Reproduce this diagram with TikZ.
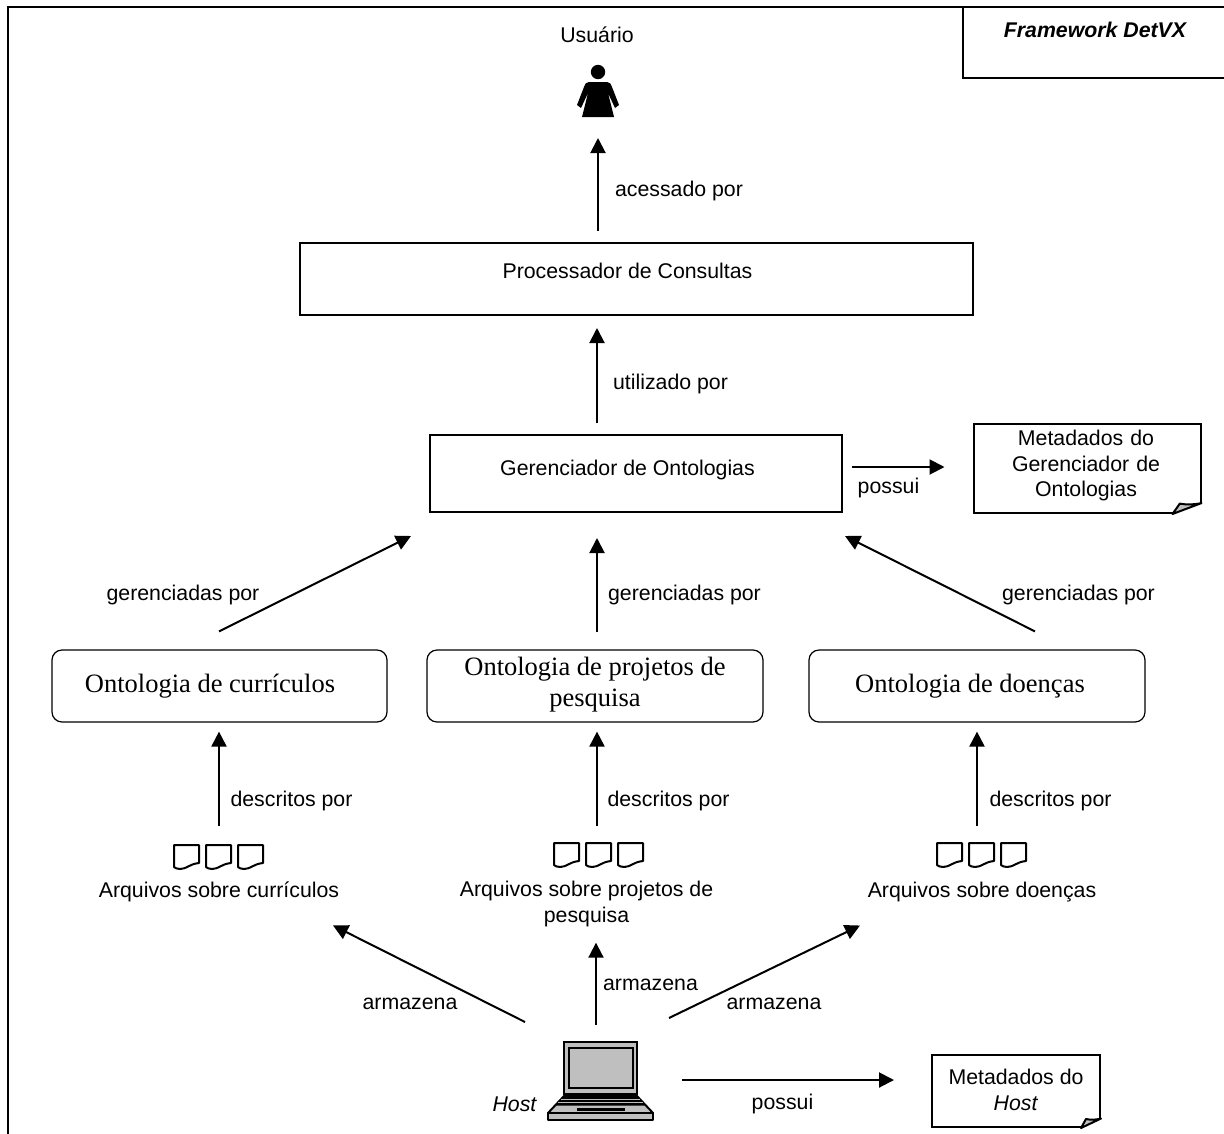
\documentclass[tikz,border=0pt]{standalone}
\usepackage{fontspec}
\setmainfont{Liberation Sans}
\newfontfamily\serifont{Liberation Serif}
\usetikzlibrary{arrows.meta}
\definecolor{lapgray}{gray}{0.75}
\tikzset{
  every picture/.style={line width=2pt},
  txt/.style={font=\fontsize{21.3}{25.5}\selectfont,inner sep=0pt,align=center,text=black},
  serif/.style={font=\serifont\fontsize{26.5}{31}\selectfont,inner sep=0pt,align=center},
  blockbox/.style={draw=black,line width=2pt,inner sep=0pt,fill=white},
  ontobox/.style={blockbox,rounded corners=10pt,line width=1.2pt},
  arr/.style={-{Triangle[length=15pt,width=15pt]},line width=2pt,black},
  foldnote/.pic={
    \fill[white] (1.5,-9.5) -- (1.5,1.5) -- (-20,1.5) -- (-20,-0.5) -- cycle;
    \draw[line width=2pt,fill=lapgray,line join=round] (0,-9.5) .. controls (-6,-8) and (-10,-8) .. (-15,-9) -- (-20,0) -- cycle;
  },
  docicon/.pic={
    \draw[line width=2pt,line join=round,fill=white] (0,0) -- (25,0) -- (25,18)
      .. controls (15,19) and (13,24) .. (6,24) .. controls (3,24) and (1,23) .. (0,22) -- cycle;
  },
  docgroup/.pic={
    \pic at (0,0) {docicon};
    \pic at (32,0) {docicon};
    \pic at (64,0) {docicon};
  },
  personicon/.pic={
    \fill (0,0) circle (7.2);
    \fill[line join=round] (-9,10) -- (9,10) .. controls (12,10) and (13,12) .. (14,15)
      -- (21,33) -- (17,36) -- (10,21) -- (16,45) -- (-16,45) -- (-10,21) -- (-17,36) -- (-21,33) -- (-14,15)
      .. controls (-13,12) and (-12,10) .. (-9,10) -- cycle;
  },
  laptopicon/.pic={
    \draw[line width=2pt,fill=lapgray] (0,0) rectangle (73,52);
    \draw[line width=2pt,fill=lapgray] (5,6) rectangle (69,46);
    \draw[line width=2pt,fill=lapgray,line join=round] (0,54) -- (73,54) -- (89,71) -- (-16,71) -- cycle;
    \fill (0,54) -- (73,54) -- (82,63.5) -- (-9,63.5) -- cycle;
    \draw[lapgray,line width=1pt] (-3,57.5) -- (76,57.5) (-6,60.5) -- (79,60.5);
    \fill (13,66) rectangle (61,69);
    \draw[line width=2pt,fill=lapgray,line join=round] (-16,71) rectangle (89,78);
  }
}
\begin{document}
\begin{tikzpicture}[x=1pt,y=-1pt]
\useasboundingbox (0,0) rectangle (1224,1133);
\coordinate (frameTL) at (8,7);
\coordinate (frameTR) at (1224,7);
\coordinate (frameBL) at (8,1133);
\draw[line width=2pt,line cap=rect] (frameBL) -- (frameTL) -- (frameTR);
\coordinate (tagTL) at (963,7);
\coordinate (tagBL) at (963,78);
\coordinate (tagBR) at (1224,78);
\draw[line width=2pt] (tagTL) -- (tagBL) -- (tagBR);
\node[txt,anchor=base,font=\fontsize{21.3}{25}\selectfont\bfseries\itshape] (tag) at (1095,37) {Framework DetVX};

\node[txt,anchor=base] (usertxt) at (597,42) {Usuário};
\node[inner sep=0pt,minimum width=42pt,minimum height=52pt] (user) at (598,91) {};
\pic at (598,72) {personicon};

\node[blockbox,minimum width=673pt,minimum height=72pt] (proc) at (636.5,279) {};
\node[txt,anchor=base] (proctxt) at (627.5,278) {Processador de Consultas};
\node[blockbox,minimum width=412pt,minimum height=77pt] (gen) at (636,473.5) {};
\node[txt,anchor=base] (gentxt) at (627.5,475) {Gerenciador de Ontologias};

\node[blockbox,minimum width=227pt,minimum height=89pt] (metagen) at (1087,468.5) {};
\pic[xscale=1.45,yscale=1.15] at (metagen.south east) {foldnote};
\node[txt,text width=225pt] (metagentxt) at (1086,465.5) {Metadados do\\Gerenciador de\\Ontologias};

\node[ontobox,minimum width=335pt,minimum height=72pt] (onto1) at (219.5,686) {};
\node[ontobox,minimum width=336pt,minimum height=72pt] (onto2) at (595,686) {};
\node[ontobox,minimum width=336pt,minimum height=72pt] (onto3) at (977,686) {};
\node[serif,anchor=base] (onto1txt) at (210,692) {Ontologia de currículos};
\node[serif] (onto2txt) at (595,685) {Ontologia de projetos de\\pesquisa};
\node[serif,anchor=base] (onto3txt) at (970,692) {Ontologia de doenças};

\pic at (174,845) {docgroup};
\pic at (554,843) {docgroup};
\pic at (937,843) {docgroup};
\node[inner sep=0pt,minimum width=89pt,minimum height=24pt] (docs1) at (218.5,857) {};
\node[inner sep=0pt,minimum width=89pt,minimum height=24pt] (docs2) at (598.5,855) {};
\node[inner sep=0pt,minimum width=89pt,minimum height=24pt] (docs3) at (981.5,855) {};
\node[txt,anchor=base] (arq1) at (219,897) {Arquivos sobre currículos};
\node[txt] (arq2) at (586.5,904) {Arquivos sobre projetos de\\pesquisa};
\node[txt,anchor=base] (arq3) at (982,897) {Arquivos sobre doenças};

\pic at (564,1042) {laptopicon};
\node[inner sep=0pt,minimum width=105pt,minimum height=78pt] (host) at (600.5,1081) {};
\node[txt,anchor=base,font=\fontsize{21.3}{25}\selectfont\itshape] (hosttxt) at (514.5,1111) {Host};

\node[blockbox,minimum width=168pt,minimum height=72pt] (metahost) at (1016,1091) {};
\pic at (metahost.south east) {foldnote};
\node[txt] (metahosttxt) at (1016,1090) {Metadados do\\\textit{Host}};

% connectors
\draw[arr] ([shift={(-38.5,-11)}]proc.north) -- ([shift={(0,20)}]user.south);
\draw[arr] ([shift={(-39,-11)}]gen.north) -- ([shift={(-39.5,12)}]proc.south);
\draw[arr] ([shift={(-0.5,-18)}]onto1.north) -- ([shift={(-225,23)}]gen.south);
\draw[arr] ([shift={(2,-17)}]onto2.north) -- ([shift={(-39,25)}]gen.south);
\draw[arr] ([shift={(58,-18)}]onto3.north) -- ([shift={(209,23)}]gen.south);
\draw[arr] ([shift={(0.5,-18)}]docs1.north) -- ([shift={(-0.5,9)}]onto1.south);
\draw[arr] ([shift={(-1.5,-16)}]docs2.north) -- ([shift={(2,9)}]onto2.south);
\draw[arr] ([shift={(-4.5,-16)}]docs3.north) -- ([shift={(0,9)}]onto3.south);
\coordinate (armL) at ([shift={(114,23)}]arq1.south);
\coordinate (armR) at ([shift={(-122,23)}]arq3.south);
\draw[arr] ([shift={(-22,-19)}]host.north west) -- (armL);
\draw[arr] ([shift={(-4.5,-16)}]host.north) -- ([shift={(9.5,15)}]arq2.south);
\draw[arr] ([shift={(15,-23)}]host.north east) -- (armR);
\draw[arr] ([shift={(9,-6.5)}]gen.east) -- ([shift={(-28,-1.5)}]metagen.west);
\draw[arr] ([shift={(28,-1)}]host.east) -- ([shift={(-37,-11)}]metahost.west);

% connector labels
\node[txt,anchor=base] (l1) at (679,196) {acessado por};
\node[txt,anchor=base] (l2) at (670.5,389) {utilizado por};
\node[txt,anchor=base] (l3) at (183,600) {gerenciadas por};
\node[txt,anchor=base] (l4) at (684.5,600) {gerenciadas por};
\node[txt,anchor=base] (l5) at (1078.5,600) {gerenciadas por};
\node[txt,anchor=base] (l6) at (888.5,493) {possui};
\node[txt,anchor=base] (l7) at (291.5,806) {descritos por};
\node[txt,anchor=base] (l8) at (668.5,806) {descritos por};
\node[txt,anchor=base] (l9) at (1050.5,806) {descritos por};
\node[txt,anchor=base] (l10) at (410,1009) {armazena};
\node[txt,anchor=base] (l11) at (650.5,990) {armazena};
\node[txt,anchor=base] (l12) at (774,1009) {armazena};
\node[txt,anchor=base] (l13) at (782.5,1109) {possui};
\end{tikzpicture}
\end{document}
